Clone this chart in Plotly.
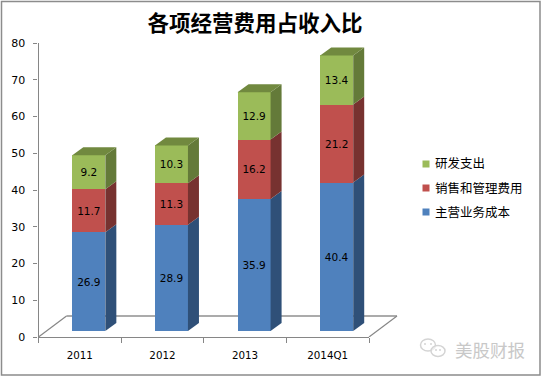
import plotly.graph_objects as go

categories = ["2011", "2012", "2013", "2014Q1"]
cost = [26.9, 28.9, 35.9, 40.4]
selling_admin = [11.7, 11.3, 16.2, 21.2]
rnd = [9.2, 10.3, 12.9, 13.4]
series_names = ["主营业务成本", "销售和管理费用", "研发支出"]
title_text = "各项经营费用占收入比"
watermark_text = "美股财报"

W, H = 542, 377
AX_L, AX_R, AX_T, AX_B = 38.5, 369.0, 43.0, 337.0
BAR_DX, BAR_DY = 9.0, 6.0         # shift of bar plane from axis plane
DEPTH_X, DEPTH_Y = 11.0, 8.0      # 3D depth of bars
FLOOR_X, FLOOR_Y = 28.0, 21.0     # 3D depth of floor
BAR_W = 0.40
GRAY = "#868686"
FLOOR = "#ababab"
TICK_FONT = "DejaVu Sans"
CJK = "Noto Sans CJK SC"

cat_px = (AX_R - AX_L) / len(categories)
unit_px = (AX_B - AX_T) / 80
xpos = list(range(len(categories)))
dx = DEPTH_X / cat_px
dy = DEPTH_Y / unit_px


def fx(p):
    return p / W


def fy(p):
    return 1 - p / H


fig = go.Figure()

# Floor of the 3D box, on the hidden linear axis that shares the value axis
fl_dx = FLOOR_X / cat_px
fl_dy = FLOOR_Y / unit_px
x_lo, x_hi = -0.5, len(categories) - 0.5
floor_lines = [
    ([x_lo + fl_dx, x_hi + fl_dx], [fl_dy, fl_dy], 2.2, FLOOR),
    ([x_lo, x_lo + fl_dx], [0, fl_dy], 1.2, GRAY),
    ([x_hi, x_hi + fl_dx], [0, fl_dy], 1.2, GRAY),
]
for xs, ys, w, c in floor_lines:
    fig.add_trace(go.Scatter(x=xs, y=ys, mode="lines", line=dict(color=c, width=w),
                             cliponaxis=False, showlegend=False, hoverinfo="skip",
                             xaxis="x", yaxis="y"))

# Invisible trace that gives the visible category axis its labels
fig.add_trace(go.Scatter(x=categories, y=[0] * len(categories), mode="markers",
                         marker=dict(opacity=0), showlegend=False, hoverinfo="skip",
                         xaxis="x2", yaxis="y"))

series = [cost, selling_admin, rnd]
front = ["#4F81BD", "#C0504D", "#9BBB59"]
side = ["#2F5078", "#773230", "#647A39"]
top_col = "#71893F"

for name, vals, c in zip(series_names, series, front):
    fig.add_trace(go.Bar(x=xpos, y=vals, name=name, marker=dict(color=c, line=dict(width=0)),
                         width=BAR_W, text=[f"{v:.1f}" for v in vals],
                         textposition="inside", insidetextanchor="middle", textangle=0,
                         insidetextfont=dict(family=TICK_FONT, size=10.5, color="black"),
                         showlegend=False, xaxis="x3", yaxis="y3"))

# Side and top faces derived from the same stacked values
base = [0.0] * len(categories)
for vals, c in zip(series, side):
    for i, v in enumerate(vals):
        xr = xpos[i] + BAR_W / 2
        y0, y1 = base[i], base[i] + v
        fig.add_trace(go.Scatter(
            x=[xr, xr + dx, xr + dx, xr, xr], y=[y0, y0 + dy, y1 + dy, y1, y0],
            mode="lines", line=dict(width=0), fill="toself", fillcolor=c,
            cliponaxis=False, showlegend=False, hoverinfo="skip", xaxis="x3", yaxis="y3"))
        base[i] = y1
for i, t in enumerate(base):
    xl, xr = xpos[i] - BAR_W / 2, xpos[i] + BAR_W / 2
    fig.add_trace(go.Scatter(
        x=[xl, xr, xr + dx, xl + dx, xl], y=[t, t, t + dy, t + dy, t],
        mode="lines", line=dict(width=0), fill="toself", fillcolor=top_col,
        cliponaxis=False, showlegend=False, hoverinfo="skip", xaxis="x3", yaxis="y3"))

shapes = [dict(type="rect", xref="paper", yref="paper", x0=fx(1.5), x1=fx(540), y0=fy(1.5), y1=fy(375),
               line=dict(color="#8c8c8c", width=1.5), fillcolor="rgba(0,0,0,0)", layer="below")]

annotations = [dict(text=watermark_text, xref="paper", yref="paper", x=fx(490), y=fy(349.5),
                    showarrow=False, xanchor="center", yanchor="middle",
                    font=dict(family=CJK, size=17.5, color="#c8c8c8"))]

# Legend: small squares with text close beside them
LEG_X, LEG_Y0, LEG_STEP, LEG_SIZE = 426.0, 164.0, 24.0, 7.0
for k, (name, c) in enumerate(zip(reversed(series_names), reversed(front))):
    ly = LEG_Y0 + k * LEG_STEP
    shapes.append(dict(type="rect", xref="paper", yref="paper",
                       x0=fx(LEG_X - LEG_SIZE / 2), x1=fx(LEG_X + LEG_SIZE / 2),
                       y0=fy(ly - LEG_SIZE / 2), y1=fy(ly + LEG_SIZE / 2),
                       fillcolor=c, line=dict(width=0)))
    annotations.append(dict(text=name, xref="paper", yref="paper", x=fx(434), y=fy(ly - 1),
                            showarrow=False, xanchor="left", yanchor="middle", borderpad=0,
                            font=dict(family=CJK, size=12.5, color="black")))

# WeChat-style watermark glyph
wm = "#d4d4d4"
for cx, cy, rx, ry in [(428, 345, 7.5, 6), (438, 351, 7, 5.5)]:
    shapes.append(dict(type="circle", xref="paper", yref="paper",
                       x0=fx(cx - rx), x1=fx(cx + rx), y0=fy(cy - ry), y1=fy(cy + ry),
                       line=dict(color=wm, width=1.5), fillcolor="rgba(255,255,255,0.6)"))
for cx, cy in [(425, 344), (431, 344), (436, 350), (440, 350)]:
    shapes.append(dict(type="circle", xref="paper", yref="paper",
                       x0=fx(cx - 1), x1=fx(cx + 1), y0=fy(cy - 1), y1=fy(cy + 1),
                       line=dict(width=0), fillcolor=wm))

fig.update_layout(
    width=W, height=H, autosize=False, margin=dict(l=0, r=0, t=0, b=0, autoexpand=False),
    paper_bgcolor="white", plot_bgcolor="rgba(0,0,0,0)",
    barmode="stack", bargap=0.6, shapes=shapes, annotations=annotations, showlegend=False,
    title=dict(text=title_text, x=fx(255), xanchor="center", xref="paper",
               y=fy(23.5), yanchor="middle", yref="paper",
               font=dict(family=CJK, size=21.5, color="black", weight="bold")),
    xaxis=dict(domain=[fx(AX_L), fx(AX_R + FLOOR_X + 3)],
               range=[x_lo, x_hi + (FLOOR_X + 3) / cat_px], visible=False, anchor="y"),
    xaxis2=dict(domain=[fx(AX_L), fx(AX_R)], type="category", categoryorder="array",
                categoryarray=categories, range=[x_lo, x_hi], tickson="boundaries", anchor="y",
                ticks="outside", ticklen=5, tickcolor=GRAY, showline=True, linecolor=GRAY,
                linewidth=1.2, showgrid=False, ticklabelstandoff=9,
                tickfont=dict(family=TICK_FONT, size=10.3, color="black")),
    yaxis=dict(domain=[fy(AX_B), fy(AX_T)], range=[0, 80], dtick=10, anchor="x",
               ticks="outside", ticklen=4, tickcolor=GRAY, showline=True, linecolor=GRAY,
               linewidth=1.2, showgrid=False, zeroline=False, ticklabelstandoff=6,
               tickfont=dict(family=TICK_FONT, size=11, color="black")),
    xaxis3=dict(domain=[fx(AX_L + BAR_DX), fx(AX_R + BAR_DX)], range=[x_lo, x_hi],
                visible=False, anchor="y3"),
    yaxis3=dict(domain=[fy(AX_B - BAR_DY), fy(AX_T - BAR_DY)], range=[0, 80],
                visible=False, anchor="x3"),
)

fig.write_html(
    "out.html",
    default_width=f"{W}px",
    default_height=f"{H}px",
    config=dict(displayModeBar=False, responsive=False),
    post_script=(
        "document.documentElement.style.margin='0';"
        "document.body.style.margin='0';document.body.style.overflow='hidden';"
        "var gd=document.getElementById('{plot_id}');"
        "gd.style.position='fixed';gd.style.left='0';gd.style.top='0';"
    ),
)
